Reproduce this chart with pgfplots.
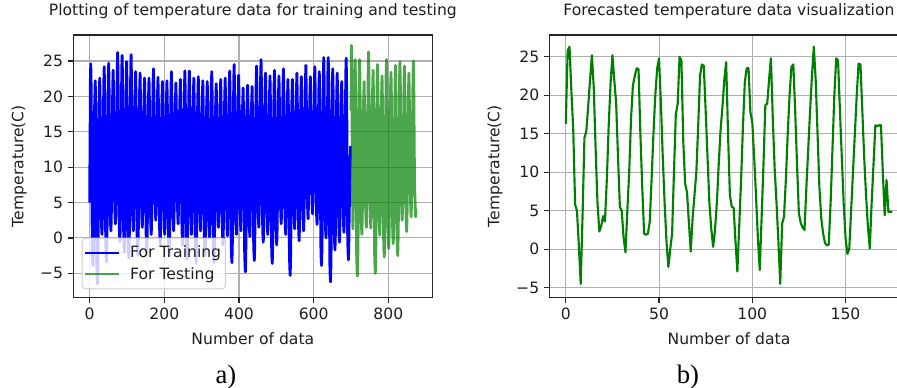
\documentclass[border=0pt]{standalone}
\usepackage{fontspec}
\setmainfont{DejaVu Sans}
\newfontfamily\capfont{Liberation Serif}
\usepackage{pgfplots}
\pgfplotsset{compat=1.18}
\definecolor{mgreen}{RGB}{0,128,0}
\definecolor{gridc}{RGB}{176,176,176}
\definecolor{legc}{RGB}{204,204,204}
\definecolor{txt}{RGB}{30,30,30}
\pgfplotsset{
 mpl/.style={
  scale only axis, width=269.25pt, height=196.7pt,
  anchor=south west,
  axis line style={black!85, line width=0.9pt},
  tick align=outside, tick pos=left,
  major tick length=4pt,
  every tick/.style={black!85, line width=0.9pt},
  grid=major,
  major grid style={gridc, line width=0.8pt},
  tick label style={font=\fontsize{11.7}{14}\selectfont, text=txt},
  xticklabel style={inner sep=0pt, yshift=-4pt},
  yticklabel style={inner sep=0pt, xshift=-3.5pt},
  label style={font=\fontsize{11.7}{14}\selectfont, text=txt},
  title style={font=\fontsize{11.7}{14}\selectfont, text=txt, at={(0.5,1)}, anchor=base, yshift=8.8pt},
  xlabel style={at={(0.5,0)}, anchor=base, yshift=-35.4pt},
  ylabel style={at={(0,0.5)}, anchor=base, yshift=37.5pt},
  ytick={-5,0,5,10,15,20,25},
  yticklabels={−5,0,5,10,15,20,25},
 }
}
\begin{document}
\begin{tikzpicture}
\path[use as bounding box] (0,0) rectangle (672.75pt,291pt);
\clip (0,0) rectangle (672.75pt,291pt);
\begin{axis}[mpl, at={(55pt,68pt)},
  xmin=-43.7, xmax=917.7, ymin=-8.39, ymax=28.67,
  xtick={0,200,400,600,800}, xticklabels={0,200,400,600,800},
  title={Plotting of temperature data for training and testing},
  xlabel={Number of data}, ylabel={Temperature(C)},
  legend cell align=left,
  legend image code/.code={\draw[#1, line width=1.5pt] (0pt,0pt) -- (26pt,0pt);},
  legend style={at={(0,0)}, anchor=south west, xshift=6.3pt, yshift=6pt,
    draw=legc, line width=0.75pt, rounded corners=2.5pt,
    fill=white, fill opacity=0.8, draw opacity=1, text opacity=1,
    inner xsep=1.2pt, inner ysep=3.75pt, row sep=1.8pt, column sep=5.3pt,
    font=\fontsize{11.7}{14}\selectfont, text=txt,
    nodes={inner sep=2pt}},
]
\addplot[blue, line width=2.1pt, line join=round] coordinates {
(0,5)(1,13)(2,22.6)
(3,24.6)(4,21.6)(5,15)(6,8)(7,-0.9)(8,-2.9)(9,-3.9)(10,-1.9)(11,2.1)(12,13)(13,18)(14,20.2)
(15,22.2)(16,19.2)(17,15)(18,8)(19,-3.5)(20,-5.5)(21,-6.5)(22,-4.5)(23,-0.5)(24,13)(25,18)(26,20.6)
(27,22.6)(28,19.6)(29,15)(30,8)(31,3.5)(32,1.5)(33,0.5)(34,2.5)(35,6.5)(36,13)(37,18)(38,22.2)
(39,24.2)(40,21.2)(41,15)(42,8)(43,-0.4)(44,-2.4)(45,-3.4)(46,-1.4)(47,2.6)(48,13)(49,18)(50,22.7)
(51,24.7)(52,21.7)(53,15)(54,8)(55,4)(56,2)(57,1)(58,3)(59,7)(60,13)(61,18)(62,21.7)
(63,23.7)(64,20.7)(65,15)(66,8)(67,5)(68,3)(69,2)(70,4)(71,8)(72,13)(73,18)(74,24.2)
(75,26.2)(76,23.2)(77,15)(78,8)(79,2.5)(80,0.5)(81,-0.5)(82,1.5)(83,5.5)(84,13)(85,18)(86,23.8)
(87,25.8)(88,22.8)(89,15)(90,8)(91,1)(92,-1)(93,-2)(94,0)(95,4)(96,13)(97,18)(98,22.9)
(99,24.9)(100,21.9)(101,15)(102,8)(103,0.2)(104,-1.8)(105,-2.8)(106,-0.8)(107,3.2)(108,13)(109,18)(110,23.9)
(111,25.9)(112,22.9)(113,15)(114,8)(115,4)(116,2)(117,1)(118,3)(119,7)(120,13)(121,18)(122,21.5)
(123,23.5)(124,20.5)(125,15)(126,8)(127,0.6)(128,-1.4)(129,-2.4)(130,-0.4)(131,3.6)(132,13)(133,18)(134,21.3)
(135,23.3)(136,20.3)(137,15)(138,8)(139,4.5)(140,2.5)(141,1.5)(142,3.5)(143,7.5)(144,13)(145,18)(146,20.6)
(147,22.6)(148,19.6)(149,15)(150,8)(151,1)(152,-1)(153,-2)(154,0)(155,4)(156,13)(157,18)(158,20.6)
(159,22.6)(160,19.6)(161,15)(162,8)(163,3.5)(164,1.5)(165,0.5)(166,2.5)(167,6.5)(168,13)(169,18)(170,21.9)
(171,23.9)(172,20.9)(173,15)(174,8)(175,5.5)(176,3.5)(177,2.5)(178,4.5)(179,8.5)(180,13)(181,18)(182,20.7)
(183,22.7)(184,19.7)(185,15)(186,8)(187,2)(188,0)(189,-1)(190,1)(191,5)(192,13)(193,18)(194,20.1)
(195,22.1)(196,19.1)(197,15)(198,8)(199,3.5)(200,1.5)(201,0.5)(202,2.5)(203,6.5)(204,13)(205,18)(206,20.2)
(207,22.2)(208,19.2)(209,15)(210,8)(211,0.5)(212,-1.5)(213,-2.5)(214,-0.5)(215,3.5)(216,13)(217,18)(218,21.5)
(219,23.5)(220,20.5)(221,15)(222,8)(223,4)(224,2)(225,1)(226,3)(227,7)(228,13)(229,18)(230,19.9)
(231,21.9)(232,18.9)(233,15)(234,8)(235,5)(236,3)(237,2)(238,4)(239,8)(240,13)(241,18)(242,20.4)
(243,22.4)(244,19.4)(245,15)(246,8)(247,2)(248,0)(249,-1)(250,1)(251,5)(252,13)(253,18)(254,21.6)
(255,23.6)(256,20.6)(257,15)(258,8)(259,0)(260,-2)(261,-3)(262,-1)(263,3)(264,13)(265,18)(266,21.6)
(267,23.6)(268,20.6)(269,15)(270,8)(271,3.5)(272,1.5)(273,0.5)(274,2.5)(275,6.5)(276,13)(277,18)(278,20.6)
(279,22.6)(280,19.6)(281,15)(282,8)(283,-0.5)(284,-2.5)(285,-3.5)(286,-1.5)(287,2.5)(288,13)(289,18)(290,20.8)
(291,22.8)(292,19.8)(293,15)(294,8)(295,4)(296,2)(297,1)(298,3)(299,7)(300,13)(301,18)(302,20.2)
(303,22.2)(304,19.2)(305,15)(306,8)(307,0.5)(308,-1.5)(309,-2.5)(310,-0.5)(311,3.5)(312,13)(313,18)(314,20.1)
(315,22.1)(316,19.1)(317,15)(318,8)(319,3)(320,1)(321,0)(322,2)(323,6)(324,13)(325,18)(326,21.5)
(327,23.5)(328,20.5)(329,15)(330,8)(331,-0.5)(332,-2.5)(333,-3.5)(334,-1.5)(335,2.5)(336,13)(337,18)(338,19.8)
(339,21.8)(340,18.8)(341,15)(342,8)(343,4.5)(344,2.5)(345,1.5)(346,3.5)(347,7.5)(348,13)(349,18)(350,20.4)
(351,22.4)(352,19.4)(353,15)(354,8)(355,2)(356,0)(357,-1)(358,1)(359,5)(360,13)(361,18)(362,20.6)
(363,22.6)(364,19.6)(365,15)(366,8)(367,3.3)(368,1.3)(369,0.3)(370,2.3)(371,6.3)(372,13)(373,18)(374,21.6)
(375,23.6)(376,20.6)(377,15)(378,8)(379,-0.5)(380,-2.5)(381,-3.5)(382,-1.5)(383,2.5)(384,13)(385,18)(386,22.5)
(387,24.5)(388,21.5)(389,15)(390,8)(391,3.5)(392,1.5)(393,0.5)(394,2.5)(395,6.5)(396,13)(397,18)(398,21)
(399,23)(400,20)(401,15)(402,8)(403,4)(404,2)(405,1)(406,3)(407,7)(408,13)(409,18)(410,19.2)
(411,21.2)(412,18.2)(413,15)(414,8)(415,-1.8)(416,-3.8)(417,-4.8)(418,-2.8)(419,1.2)(420,13)(421,18)(422,19.6)
(423,21.6)(424,18.6)(425,15)(426,8)(427,3.2)(428,1.2)(429,0.2)(430,2.2)(431,6.2)(432,13)(433,18)(434,19.4)
(435,21.4)(436,18.4)(437,15)(438,8)(439,-0.2)(440,-2.2)(441,-3.2)(442,-1.2)(443,2.8)(444,13)(445,18)(446,22.3)
(447,24.3)(448,21.3)(449,15)(450,8)(451,4.5)(452,2.5)(453,1.5)(454,3.5)(455,7.5)(456,13)(457,18)(458,23.2)
(459,25.2)(460,22.2)(461,15)(462,8)(463,2.4)(464,0.4)(465,-0.6)(466,1.4)(467,5.4)(468,13)(469,18)(470,21.3)
(471,23.3)(472,20.3)(473,15)(474,8)(475,3.5)(476,1.5)(477,0.5)(478,2.5)(479,6.5)(480,13)(481,18)(482,20.9)
(483,22.9)(484,19.9)(485,15)(486,8)(487,-0.6)(488,-2.6)(489,-3.6)(490,-1.6)(491,2.4)(492,13)(493,18)(494,21.7)
(495,23.7)(496,20.7)(497,15)(498,8)(499,2)(500,0)(501,-1)(502,1)(503,5)(504,13)(505,18)(506,20.9)
(507,22.9)(508,19.9)(509,15)(510,8)(511,5)(512,3)(513,2)(514,4)(515,8)(516,13)(517,18)(518,21.9)
(519,23.9)(520,20.9)(521,15)(522,8)(523,3.5)(524,1.5)(525,0.5)(526,2.5)(527,6.5)(528,13)(529,18)(530,20.4)
(531,22.4)(532,19.4)(533,15)(534,8)(535,-2.3)(536,-4.3)(537,-5.3)(538,-3.3)(539,0.7)(540,13)(541,18)(542,20.4)
(543,22.4)(544,19.4)(545,15)(546,8)(547,4.3)(548,2.3)(549,1.3)(550,3.3)(551,7.3)(552,13)(553,18)(554,21.3)
(555,23.3)(556,20.3)(557,15)(558,8)(559,2.6)(560,0.6)(561,-0.4)(562,1.6)(563,5.6)(564,13)(565,18)(566,20.8)
(567,22.8)(568,19.8)(569,15)(570,8)(571,4)(572,2)(573,1)(574,3)(575,7)(576,13)(577,18)(578,22.4)
(579,24.4)(580,21.4)(581,15)(582,8)(583,5.7)(584,3.7)(585,2.7)(586,4.7)(587,8.7)(588,13)(589,18)(590,20.8)
(591,22.8)(592,19.8)(593,15)(594,8)(595,6.4)(596,4.4)(597,3.4)(598,5.4)(599,9.4)(600,13)(601,18)(602,22.2)
(603,24.2)(604,21.2)(605,15)(606,8)(607,4.9)(608,2.9)(609,1.9)(610,3.9)(611,7.9)(612,13)(613,18)(614,21.5)
(615,23.5)(616,20.5)(617,15)(618,8)(619,-0.9)(620,-2.9)(621,-3.9)(622,-1.9)(623,2.1)(624,13)(625,18)(626,23.5)
(627,25.5)(628,22.5)(629,15)(630,8)(631,3)(632,1)(633,0)(634,2)(635,6)(636,13)(637,18)(638,23.5)
(639,25.5)(640,22.5)(641,15)(642,8)(643,-3.2)(644,-5.2)(645,-6.2)(646,-4.2)(647,-0.2)(648,13)(649,18)(650,21.9)
(651,23.9)(652,20.9)(653,15)(654,8)(655,1.3)(656,-0.7)(657,-1.7)(658,0.3)(659,4.3)(660,13)(661,18)(662,21.3)
(663,23.3)(664,20.3)(665,15)(666,8)(667,2.4)(668,0.4)(669,-0.6)(670,1.4)(671,5.4)(672,13)(673,18)(674,20.1)
(675,22.1)(676,19.1)(677,15)(678,8)(679,3.8)(680,1.8)(681,0.8)(682,2.8)(683,6.8)(684,13)(685,18)(686,23.4)
(687,25.4)(688,22.4)(689,15)(690,8)(691,-0.1)(692,-2.1)(693,-3.1)(694,-1.1)(695,3)(696,6)(697,9)(698,11)(699,13)
};
\addlegendentry{For Training}
\addplot[draw=mgreen, draw opacity=0.7, line width=2.1pt, line join=round] coordinates {
(700,18)(701,27.2)(702,23)(703,14)(704,6)(705,1.3)(706,3.3)(707,7.3)(708,13)(709,18)(710,23.2)
(711,25.2)(712,22.2)(713,15)(714,8)(715,-2.4)(716,-4.4)(717,-5.4)(718,-3.4)(719,0.6)(720,13)(721,18)(722,23.2)
(723,25.2)(724,22.2)(725,15)(726,8)(727,3.5)(728,1.5)(729,0.5)(730,2.5)(731,6.5)(732,13)(733,18)(734,20.1)
(735,22.1)(736,19.1)(737,15)(738,8)(739,4.5)(740,2.5)(741,1.5)(742,3.5)(743,7.5)(744,13)(745,18)(746,24.3)
(747,26.3)(748,23.3)(749,15)(750,8)(751,4.4)(752,2.4)(753,1.4)(754,3.4)(755,7.4)(756,13)(757,18)(758,21.7)
(759,23.7)(760,20.7)(761,15)(762,8)(763,-2)(764,-4)(765,-5)(766,-3)(767,1)(768,13)(769,18)(770,22.5)
(771,24.5)(772,21.5)(773,15)(774,8)(775,3.4)(776,1.4)(777,0.4)(778,2.4)(779,6.4)(780,13)(781,18)(782,20.9)
(783,22.9)(784,19.9)(785,15)(786,8)(787,0.3)(788,-1.7)(789,-2.7)(790,-0.7)(791,3.3)(792,13)(793,18)(794,23.2)
(795,25.2)(796,22.2)(797,15)(798,8)(799,1.5)(800,-0.5)(801,-1.5)(802,0.5)(803,4.5)(804,13)(805,18)(806,21.4)
(807,23.4)(808,20.4)(809,15)(810,8)(811,2.2)(812,0.2)(813,-0.8)(814,1.2)(815,5.2)(816,13)(817,18)(818,22.4)
(819,24.4)(820,21.4)(821,15)(822,8)(823,0.5)(824,-1.5)(825,-2.5)(826,-0.5)(827,3.5)(828,13)(829,18)(830,22.9)
(831,24.9)(832,21.9)(833,15)(834,8)(835,5.5)(836,3.5)(837,2.5)(838,4.5)(839,8.5)(840,13)(841,18)(842,22.3)
(843,24.3)(844,21.3)(845,15)(846,8)(847,3.9)(848,1.9)(849,0.9)(850,2.9)(851,6.9)(852,13)(853,18)(854,21.3)
(855,23.3)(856,20.3)(857,15)(858,8)(859,6)(860,4)(861,3)(862,5)(863,9)(864,13)(865,18)(866,23)
(867,25)(868,22)(869,15)(870,8)(871,6)(872,4.5)(873,3)(874,3.9)
};
\addlegendentry{For Testing}
\end{axis}
\begin{axis}[mpl, at={(412.1pt,68pt)},
  xmin=-8.75, xmax=183.75, ymin=-6.25, ymax=27.82,
  xtick={0,50,100,150}, xticklabels={0,50,100,150},
  title={Forecasted temperature data visualization},
  xlabel={Number of data}, ylabel={Temperature(C)},
]
\addplot[draw=mgreen, line width=1.6pt, line join=round] coordinates {
(0,16.3)(1,25.8)(2,26.3)(3,20.5)(4,15.5)(5,5.8)(6,5.0)(7,0.5)(8,-4.5)(9,4.5)
(10,14.5)(11,15.3)(12,18.5)(13,22)(14,25.2)(15,21)(16,13)(17,6)(18,2.3)(19,3.0)
(20,4.3)(21,3.6)(22,9)(23,16)(24,21.5)(25,25.2)(26,22)(27,19)(28,12)(29,5.5)
(30,5.0)(31,1.5)(32,-0.4)(33,5)(34,10)(35,17)(36,21.3)(37,22.5)(38,23.5)(39,23.4)
(40,15)(41,8)(42,2.0)(43,1.9)(44,2.0)(45,3.5)(46,9)(47,15)(48,20)(49,23.5)
(50,24.8)(51,19)(52,12)(53,6)(54,1)(55,-2.3)(56,0)(57,2.0)(58,10)(59,17.5)
(60,18.9)(61,25.0)(62,24.5)(63,14)(64,8.5)(65,7.4)(66,3.5)(67,-0.3)(68,4)(69,7)
(70,10)(71,16)(72,22.6)(73,24)(74,23.8)(75,18)(76,12)(77,6)(78,2.7)(79,0.3)
(80,2.5)(81,6)(82,11)(83,15.5)(84,18.5)(85,22)(86,24.3)(87,15)(88,7)(89,5.5)
(90,5.4)(91,1)(92,-2.9)(93,3)(94,9)(95,16)(96,21.7)(97,23.5)(98,23.5)(99,17.8)
(100,16.5)(101,12)(102,7)(103,1.5)(104,-2.7)(105,4)(106,11)(107,18.7)(108,18.9)(109,22)
(110,24.8)(111,17)(112,10.5)(113,6)(114,1)(115,-4.5)(116,3.3)(117,4.2)(118,9)(119,15)
(120,20)(121,23.7)(122,24)(123,18)(124,11)(125,4.6)(126,3.4)(127,2.8)(128,2.5)(129,8)
(130,13)(131,18)(132,22.5)(133,26.3)(134,22)(135,15)(136,8)(137,4)(138,2)(139,0.8)
(140,0.5)(141,0.6)(142,6)(143,13)(144,20)(145,24.8)(146,24.5)(147,18)(148,12)(149,6)
(150,1.5)(151,-0.6)(152,0)(153,5)(154,10)(155,15)(156,20)(157,24.1)(158,24)(159,18)
(160,12)(161,7)(162,3)(163,0.1)(164,6)(165,11)(166,16.1)(167,16.0)(168,16.1)(169,16.1)
(170,10)(171,4.4)(172,9)(173,4.8)(174,4.9)(175,4.8)
};
\end{axis}
\node[font=\capfont\fontsize{20}{24}\selectfont, anchor=base] at (169.5pt,3.5pt) {a)};
\node[font=\capfont\fontsize{20}{24}\selectfont, anchor=base] at (516pt,3.5pt) {b)};
\end{tikzpicture}
\end{document}
